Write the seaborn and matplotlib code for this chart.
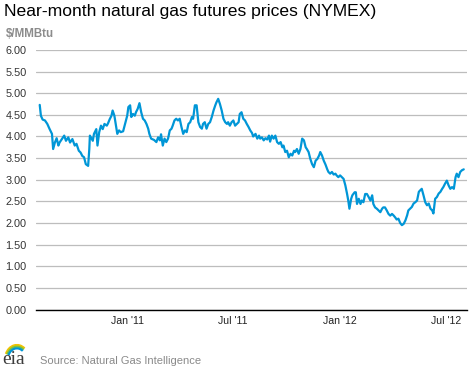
import pandas as pd
import seaborn as sns
import matplotlib
matplotlib.use("Agg")
import matplotlib.pyplot as plt
import matplotlib.dates as mdates
from matplotlib.patches import Arc

# near-month prices, $/MMBtu
dates = [
    "2010-08-04", "2010-08-06", "2010-08-09", "2010-08-13", "2010-08-17", "2010-08-21", "2010-08-25", "2010-08-27",
    "2010-08-30", "2010-09-02", "2010-09-05", "2010-09-07", "2010-09-11", "2010-09-15", "2010-09-18", "2010-09-22",
    "2010-09-25", "2010-09-29", "2010-10-03", "2010-10-06", "2010-10-10", "2010-10-13", "2010-10-16", "2010-10-19",
    "2010-10-22", "2010-10-26", "2010-10-28", "2010-10-29",
    "2010-11-03", "2010-11-05", "2010-11-09", "2010-11-11", "2010-11-14", "2010-11-17", "2010-11-20", "2010-11-23",
    "2010-11-27", "2010-11-29", "2010-12-02", "2010-12-05", "2010-12-07", "2010-12-10", "2010-12-13", "2010-12-15",
    "2010-12-18", "2010-12-21", "2010-12-25", "2010-12-29",
    "2011-01-01", "2011-01-03", "2011-01-06", "2011-01-08", "2011-01-11", "2011-01-14", "2011-01-16", "2011-01-19",
    "2011-01-22", "2011-01-25", "2011-01-28", "2011-01-31", "2011-02-03", "2011-02-06", "2011-02-08", "2011-02-11",
    "2011-02-16", "2011-02-20", "2011-02-23", "2011-02-26", "2011-02-28", "2011-03-03", "2011-03-06", "2011-03-09",
    "2011-03-12", "2011-03-15", "2011-03-18", "2011-03-20", "2011-03-23", "2011-03-26", "2011-03-29", "2011-04-01",
    "2011-04-04", "2011-04-07", "2011-04-10", "2011-04-13", "2011-04-16", "2011-04-19", "2011-04-22", "2011-04-24",
    "2011-04-27", "2011-04-30", "2011-05-03", "2011-05-06", "2011-05-09", "2011-05-11", "2011-05-14", "2011-05-17",
    "2011-05-20", "2011-05-23", "2011-05-26", "2011-05-29", "2011-06-01", "2011-06-03", "2011-06-06", "2011-06-09",
    "2011-06-12", "2011-06-15", "2011-06-18", "2011-06-21", "2011-06-23", "2011-06-26", "2011-06-29", "2011-07-02",
    "2011-07-05", "2011-07-08", "2011-07-11", "2011-07-13", "2011-07-16", "2011-07-19", "2011-07-22", "2011-07-25",
    "2011-07-28", "2011-07-31", "2011-08-03", "2011-08-05", "2011-08-09", "2011-08-12", "2011-08-15", "2011-08-17",
    "2011-08-20", "2011-08-23", "2011-08-26", "2011-08-29", "2011-09-01", "2011-09-03", "2011-09-06", "2011-09-09",
    "2011-09-12", "2011-09-15", "2011-09-18", "2011-09-21", "2011-09-24", "2011-09-26", "2011-09-29", "2011-10-02",
    "2011-10-05", "2011-10-08", "2011-10-11", "2011-10-14", "2011-10-16", "2011-10-19", "2011-10-22", "2011-10-25",
    "2011-10-28", "2011-10-31", "2011-11-03", "2011-11-05", "2011-11-08", "2011-11-11", "2011-11-14", "2011-11-17",
    "2011-11-20", "2011-11-23", "2011-11-26", "2011-11-28", "2011-12-01", "2011-12-04", "2011-12-07", "2011-12-10",
    "2011-12-12", "2011-12-15", "2011-12-18", "2011-12-21", "2011-12-24", "2011-12-26", "2011-12-29",
    "2012-01-01", "2012-01-04", "2012-01-07", "2012-01-10", "2012-01-13", "2012-01-15", "2012-01-17", "2012-01-20",
    "2012-01-22", "2012-01-26", "2012-01-28", "2012-01-30", "2012-02-02", "2012-02-05", "2012-02-07", "2012-02-10",
    "2012-02-13", "2012-02-16", "2012-02-19", "2012-02-22", "2012-02-25", "2012-02-27", "2012-03-01", "2012-03-04",
    "2012-03-07", "2012-03-10", "2012-03-13", "2012-03-15", "2012-03-18", "2012-03-21", "2012-03-24", "2012-03-27",
    "2012-03-30", "2012-04-02", "2012-04-05", "2012-04-07", "2012-04-10", "2012-04-13", "2012-04-16", "2012-04-19",
    "2012-04-22", "2012-04-25", "2012-04-27", "2012-04-30", "2012-05-03", "2012-05-06", "2012-05-09", "2012-05-12",
    "2012-05-15", "2012-05-17", "2012-05-20", "2012-05-23", "2012-05-26", "2012-05-29", "2012-06-01", "2012-06-04",
    "2012-06-07", "2012-06-09", "2012-06-12", "2012-06-15", "2012-06-18", "2012-06-21", "2012-06-24", "2012-06-26",
    "2012-06-29", "2012-07-02", "2012-07-05", "2012-07-08", "2012-07-11", "2012-07-14", "2012-07-17", "2012-07-19",
    "2012-07-22", "2012-07-25", "2012-07-28", "2012-07-31",
]

prices = [
    4.73, 4.48, 4.39, 4.37, 4.29, 4.17, 4.06, 3.71,
    3.86, 3.96, 3.79, 3.86, 3.94, 4.02, 3.90, 3.98,
    3.86, 3.94, 3.79, 3.83, 3.67, 3.63, 3.55, 3.52,
    3.36, 3.32, 3.71, 4.02,
    3.90, 4.06, 4.17, 3.79, 4.10, 4.25, 4.17, 4.29,
    4.25, 4.30, 4.40, 4.48, 4.60, 4.48, 4.22, 4.06,
    4.14, 4.10, 4.12, 4.33,
    4.48, 4.68, 4.72, 4.45, 4.52, 4.48, 4.56, 4.64,
    4.77, 4.56, 4.41, 4.37, 4.29, 4.18, 4.06, 3.95,
    3.92, 3.87, 3.98, 3.91, 4.05, 3.79, 3.95, 3.87,
    3.95, 4.14, 4.18, 4.25, 4.37, 4.41, 4.37, 4.41,
    4.22, 4.06, 4.14, 4.10, 4.29, 4.33, 4.45, 4.41,
    4.72, 4.72, 4.33, 4.22, 4.18, 4.29, 4.33, 4.18,
    4.29, 4.33, 4.45, 4.60, 4.72, 4.79, 4.87, 4.75,
    4.60, 4.41, 4.33, 4.29, 4.33, 4.25, 4.33, 4.37,
    4.25, 4.29, 4.33, 4.52, 4.56, 4.41, 4.37, 4.29,
    4.22, 4.14, 4.08, 4.00, 4.06, 3.95, 4.02, 3.95,
    3.98, 3.91, 3.96, 3.93, 4.02, 3.88, 4.02, 3.95,
    4.02, 3.87, 3.83, 3.87, 3.75, 3.79, 3.64, 3.67,
    3.52, 3.60, 3.56, 3.67, 3.64, 3.71, 3.60, 3.71,
    3.95, 3.91, 3.75, 3.71, 3.64, 3.48, 3.36, 3.29,
    3.44, 3.48, 3.56, 3.64, 3.56, 3.44, 3.35, 3.24,
    3.18, 3.14, 3.18, 3.12, 3.14, 3.10, 3.06,
    3.10, 3.06, 3.02, 2.87, 2.67, 2.52, 2.33, 2.56,
    2.64, 2.71, 2.71, 2.44, 2.56, 2.44, 2.52, 2.48,
    2.67, 2.67, 2.60, 2.52, 2.64, 2.44, 2.36, 2.33,
    2.29, 2.25, 2.33, 2.36, 2.36, 2.29, 2.21, 2.17,
    2.21, 2.17, 2.12, 2.08, 2.10, 2.00, 1.95, 1.98,
    2.06, 2.18, 2.29, 2.33, 2.37, 2.45, 2.48, 2.52,
    2.72, 2.75, 2.79, 2.64, 2.48, 2.41, 2.45, 2.33,
    2.29, 2.22, 2.56, 2.60, 2.68, 2.72, 2.79, 2.83,
    2.91, 2.98, 2.87, 2.79, 2.83, 2.79, 3.06, 3.14,
    3.06, 3.18, 3.22, 3.24,
]

y_ticks = [0.0, 0.5, 1.0, 1.5, 2.0, 2.5, 3.0, 3.5, 4.0, 4.5, 5.0, 5.5, 6.0]

df = pd.DataFrame({"date": pd.to_datetime(dates), "price": prices})

sns.set_style("white")
plt.rcParams["font.family"] = ["Liberation Sans", "DejaVu Sans"]

fig = plt.figure(figsize=(4.69, 3.70), dpi=100)
ax = fig.add_axes([0.076, 0.1635, 0.919, 0.7015])

sns.lineplot(data=df, x="date", y="price", ax=ax, color="#0096d7", linewidth=1.6)

ax.set_ylim(0, 6)
ax.set_yticks(y_ticks)
ax.set_yticklabels([f"{v:.2f}" for v in y_ticks])
ax.set_xlim(pd.Timestamp("2010-07-28"), pd.Timestamp("2012-08-05"))
ax.xaxis.set_major_locator(mdates.MonthLocator(bymonth=[1, 7]))
ax.xaxis.set_major_formatter(mdates.DateFormatter("%b '%y"))

ax.grid(axis="y", color="#bdbdbd", linewidth=0.9)
ax.set_axisbelow(True)
for side in ["left", "right", "top"]:
    ax.spines[side].set_visible(False)
ax.spines["bottom"].set_color("black")
ax.spines["bottom"].set_linewidth(1.0)

ax.tick_params(axis="y", length=0, pad=6.5, labelsize=7.8, labelcolor="#333333")
ax.tick_params(axis="x", direction="out", length=3, width=0.8, color="black",
               pad=2, labelsize=7.6, labelcolor="#222222")
ax.set_xlabel("")
ax.set_ylabel("")

fig.text(0.009, 0.968, "Near-month natural gas futures prices (NYMEX)", fontsize=12.6,
         color="black", ha="left", va="center")
fig.text(0.012, 0.908, "$/MMBtu", fontsize=8.3, fontweight="bold", color="#8c8c8c",
         ha="left", va="center")
fig.text(0.085, 0.024, "Source: Natural Gas Intelligence", fontsize=8.0, color="#8a8a8a",
         ha="left", va="center")

# small eia logo
fig.text(0.004, 0.016, "eia", fontsize=14, family=["Liberation Serif", "DejaVu Serif"],
         color="#3c3c3c", ha="left", va="baseline")
for w, col in [(0.05, "#f2c200"), (0.044, "#7cc242"), (0.038, "#0096d7")]:
    fig.add_artist(Arc((0.036, 0.03), w, w * 1.5, theta1=60, theta2=150,
                       transform=fig.transFigure, color=col, linewidth=1.6))

fig.savefig("out.png", dpi=100)
